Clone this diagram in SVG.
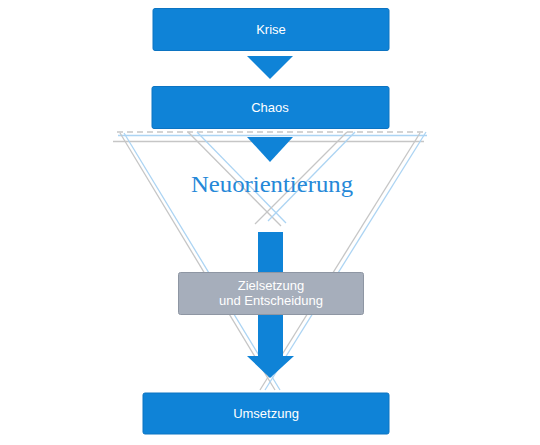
<svg xmlns="http://www.w3.org/2000/svg" width="540" height="445" viewBox="0 0 540 445">
<style>
.box{fill:#0f83d7;stroke:#0c74c2;stroke-width:1}
.lbl{font-family:"Liberation Sans",Arial,sans-serif;font-size:13px;fill:#ffffff;text-anchor:middle}
.tri{fill:#0f83d7}
.g{stroke:#c6c6c6;stroke-width:1.3;fill:none}
.b{stroke:#acd4f3;stroke-width:1.3;fill:none}
</style>
<rect width="540" height="445" fill="#ffffff"/>
<g id="connectors">
  <line class="g" x1="117" y1="132" x2="426" y2="132" stroke-dasharray="6,4" stroke="#b3b3b3"/>
  <line class="b" x1="118" y1="135.5" x2="427" y2="135.5" stroke-width="1.8"/>
  <line class="g" x1="113" y1="141.5" x2="424" y2="141.5" stroke-width="1.6"/>
  <line class="g" x1="120" y1="133" x2="275" y2="390"/>
  <line class="b" x1="124" y1="133" x2="280" y2="390"/>
  <line class="g" x1="420" y1="133" x2="260" y2="390"/>
  <line class="b" x1="426" y1="132" x2="265" y2="390"/>
  <line class="g" x1="188" y1="132" x2="281" y2="226"/>
  <line class="b" x1="197" y1="132" x2="286" y2="223"/>
  <line class="g" x1="347" y1="132" x2="255" y2="224"/>
  <line class="b" x1="355" y1="132" x2="268" y2="221"/>
  <polygon class="tri" points="247,56 293,56 270,79"/>
  <polygon class="tri" points="247,137 293,137 270,162"/>
  <rect class="tri" x="258" y="232" width="25" height="40"/>
  <polygon class="tri" points="258,314 283,314 283,356 294,356 270,378 247,356 258,356"/>
</g>
<text id="title" x="272" y="192" font-family="'Liberation Serif','DejaVu Serif',serif" font-size="24" fill="#2588d8" text-anchor="middle" textLength="162" lengthAdjust="spacingAndGlyphs">Neuorientierung</text>
<g id="krise">
  <rect class="box" x="153" y="8.5" width="236" height="42" rx="2"/>
  <text class="lbl" x="271" y="34">Krise</text>
</g>
<g id="chaos">
  <rect class="box" x="152" y="86.5" width="237" height="42" rx="2"/>
  <text class="lbl" x="270" y="112">Chaos</text>
</g>
<g id="ziel">
  <rect x="178.5" y="272.5" width="185" height="42" rx="2" fill="#a6aebb" stroke="#8e96a3" stroke-width="1"/>
  <text class="lbl" x="271" y="290" font-size="12.5">Zielsetzung</text>
  <text class="lbl" x="271" y="305" font-size="12.5">und Entscheidung</text>
</g>
<g id="umsetzung">
  <rect class="box" x="143" y="393" width="246" height="41" rx="2"/>
  <text class="lbl" x="266" y="418">Umsetzung</text>
</g>
</svg>
